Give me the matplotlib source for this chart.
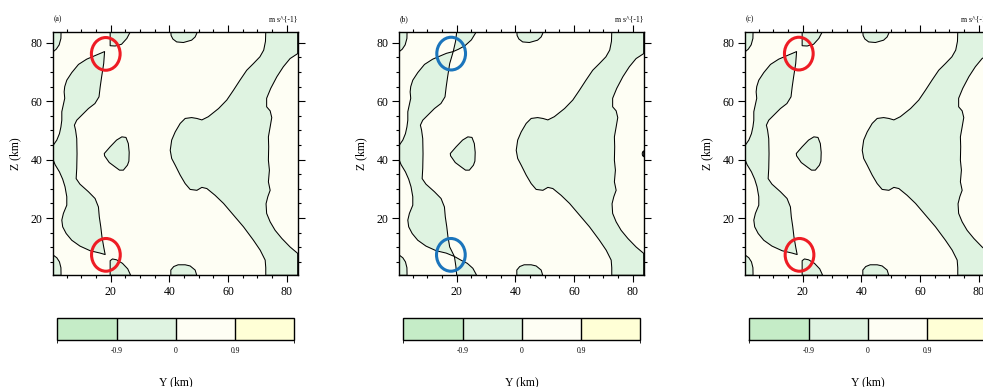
import matplotlib
matplotlib.use('Agg')
import matplotlib.pyplot as plt
import matplotlib.cm as cm
from matplotlib.patches import Ellipse
from matplotlib.colors import ListedColormap, BoundaryNorm
from matplotlib.ticker import MultipleLocator

plt.rcParams['font.family'] = ['Liberation Serif', 'DejaVu Serif']

# domain (km)
LO, HI = 0.4, 83.8

# colour levels of the shading (m s^-1)
levels = [-1.8, -0.9, 0, 0.9, 1.8]
level_ticks = [-0.9, 0, 0.9]
level_colors = ['#c5ecc7', '#dff3e1', '#fefef4', '#ffffd6']
GREEN = level_colors[1]
CREAM = level_colors[2]

panel_tags = ['(a)', '(b)', '(c)']
units = 'm s^{-1}'

# zero contour as (Y, Z) points
corner_tl = [(LO, HI), (3.05, HI), (3.0, 81.5), (2.4, 79.3), (1.4, 77.8), (LO, 77.0)]
corner_bl = [(LO, 7.3), (1.6, 6.4), (2.5, 5.0), (3.0, 3.0), (3.05, LO), (LO, LO)]

strip_outer_top = [(LO, 44.95), (1.6, 46.7), (2.5, 48.9), (3.0, 51.2), (3.3, 53.5), (3.3, 56.4),
                   (3.8, 58.7), (4.3, 61.0), (4.1, 63.2), (4.3, 65.0), (5.0, 67.2), (6.7, 69.8),
                   (9.0, 72.6), (11.8, 74.4), (14.6, 75.6), (16.5, 76.4)]
strip_inner = [(17.6, 72.9), (16.9, 68.4), (16.4, 64.9), (16.0, 61.5), (14.6, 59.2), (12.4, 57.5),
               (10.1, 55.2), (8.4, 53.5), (7.6, 51.8), (8.0, 50.1), (8.4, 47.2), (8.5, 42.0),
               (8.4, 37.0), (8.2, 33.5), (9.5, 31.6), (12.4, 29.0), (14.65, 26.7), (15.8, 23.8),
               (16.1, 20.4), (16.6, 17.0), (17.0, 13.6), (17.6, 10.1)]
strip_outer_bot = [(16.4, 8.0), (13.0, 8.8), (9.5, 10.4), (6.7, 12.4), (4.8, 14.7), (3.6, 17.0),
                   (3.3, 19.3), (3.85, 21.6), (5.0, 24.4), (5.0, 27.3), (4.4, 30.7), (3.6, 33.3),
                   (2.5, 35.8), (1.0, 38.3), (LO, 39.8)]

# pinch points: separate tips in (a)/(c), crossing saddles in (b)
tips_a = [(17.9, 77.0), (18.1, 7.5)]
tips_b = [(18.8, 77.0), (19.2, 6.85)]

top20_a = [(19.8, HI), (19.8, 79.0), (21.5, 78.9), (23.7, 79.5), (25.5, 81.5), (26.7, HI)]
bot20_a = [(19.8, LO), (19.8, 5.4), (20.6, 6.0), (22.0, 5.7), (24.0, 4.5), (25.8, 2.6), (26.8, LO)]
top20_b = [(20.0, HI), (19.6, 80.5), (18.8, 77.0), (20.6, 77.8), (22.8, 79.0), (25.0, 81.0), (26.7, HI)]
bot20_b = [(20.0, LO), (19.7, 3.5), (19.2, 6.85), (21.4, 5.6), (23.6, 4.5), (25.5, 2.8), (26.8, LO)]

top40 = [(40.5, HI), (40.6, 82.5), (41.2, 81.3), (42.5, 80.3), (44.8, 80.1), (47.6, 80.9),
         (48.8, 82.0), (49.35, 83.2), (49.4, HI)]
bot40 = [(40.5, LO), (40.5, 2.2), (41.5, 3.4), (43.0, 4.0), (45.4, 4.0), (47.1, 3.6),
         (48.8, 2.2), (49.35, LO)]

island = [(17.8, 42.1), (19.8, 44.4), (22.0, 46.7), (23.8, 47.8), (25.2, 47.6), (26.0, 45.5),
          (26.3, 42.5), (26.2, 39.5), (25.7, 38.1), (24.3, 36.4), (23.0, 36.4), (21.5, 37.5),
          (19.5, 39.0), (17.9, 41.3)]

big_left = [(72.9, HI), (72.8, 80.5), (72.2, 77.5), (70.9, 75.2), (68.7, 72.9), (66.4, 70.6),
            (64.1, 67.2), (61.9, 63.8), (59.6, 60.4), (56.8, 57.5), (53.3, 54.7), (51.1, 53.6),
            (49.4, 54.1), (47.6, 54.4), (45.4, 54.1), (43.7, 52.4), (42.0, 49.5), (40.8, 46.7),
            (40.3, 43.2), (40.8, 40.4), (42.0, 38.1), (43.7, 34.7), (45.4, 31.8), (47.1, 29.8),
            (49.4, 29.5), (51.1, 30.5), (52.8, 30.1), (55.6, 27.8), (58.5, 25.0), (61.9, 21.0),
            (65.3, 17.0), (68.7, 12.4), (71.0, 9.0), (72.7, 5.6), (72.9, 3.0), (72.9, LO)]
big_right = [(HI, 76.3), (81.2, 74.6), (78.9, 71.8), (76.7, 68.4), (74.6, 64.4), (73.2, 61.0),
             (73.2, 58.1), (74.4, 56.7), (74.95, 54.4), (74.4, 51.2), (73.8, 47.8), (73.9, 44.4),
             (73.8, 39.8), (74.15, 36.4), (73.8, 32.4), (74.4, 29.5), (73.6, 27.3), (73.0, 24.9),
             (73.2, 21.6), (74.4, 18.7), (76.1, 15.8), (78.4, 13.0), (81.2, 10.1), (HI, 7.9)]
edge_bump_b = [(HI, 43.0), (83.4, 42.6), (83.3, 42.0), (83.4, 41.4), (HI, 41.0)]

# highlight ellipses: centre (Y, Z), width, height
circles_a = [(18.3, 76.2), (18.35, 7.4)]
circles_b = [(18.1, 76.3), (18.0, 7.4)]
circles_c = [(18.66, 76.3), (18.9, 7.4)]
circle_w, circle_h = 9.8, 11.2
circle_colors = ['#ee1c24', '#1b75bc', '#ee1c24']


def green_polys(tips, top20, bot20, extra):
    strip = strip_outer_top + [tips[0]] + strip_inner + [tips[1]] + strip_outer_bot
    big = [(HI, HI)] + big_right + [(HI, LO)] + big_left[::-1]
    return [corner_tl, corner_bl, strip, top20, bot20, top40, bot40, island, big] + extra


panels = [
    green_polys(tips_a, top20_a, bot20_a, []),
    green_polys(tips_b, top20_b, bot20_b, [edge_bump_b]),
    green_polys(tips_a, top20_a, bot20_a, []),
]
circles = [circles_a, circles_b, circles_c]

fig = plt.figure(figsize=(9.83, 3.87), dpi=100)
W, H = 983.0, 387.0

cmap = ListedColormap(level_colors)
norm = BoundaryNorm(levels, cmap.N)

for i in range(3):
    dx = 346.0 * i
    ax = fig.add_axes([(53.3 + dx) / W, (H - 275.3) / H, 244.4 / W, 243.6 / H])
    ax.set_facecolor(CREAM)
    for poly in panels[i]:
        xs = [p[0] for p in poly]
        ys = [p[1] for p in poly]
        ax.fill(xs, ys, facecolor=GREEN, edgecolor='black', linewidth=0.75,
                joinstyle='round', zorder=1)
    for (cx, cy) in circles[i]:
        ax.add_patch(Ellipse((cx, cy), circle_w, circle_h, fill=False,
                             edgecolor=circle_colors[i], linewidth=2.2, zorder=5))
    ax.set_xlim(LO, HI)
    ax.set_ylim(LO, HI)
    ax.set_xticks([20, 40, 60, 80])
    ax.set_yticks([20, 40, 60, 80])
    ax.xaxis.set_minor_locator(MultipleLocator(5))
    ax.yaxis.set_minor_locator(MultipleLocator(5))
    ax.tick_params(which='both', direction='out', top=True, right=True, width=0.8,
                   labelsize=8.5, pad=3)
    ax.tick_params(which='major', length=5)
    ax.tick_params(which='minor', length=2.5)
    for s in ax.spines.values():
        s.set_linewidth(1.0)
    ax.text(0.0, 1.05, panel_tags[i], transform=ax.transAxes, fontsize=5.5,
            ha='left', va='center')
    ax.text(1.0, 1.05, units, transform=ax.transAxes, fontsize=5.5,
            ha='right', va='center')
    ax.text(-0.157, 0.5, 'Z (km)', transform=ax.transAxes, rotation=90,
            fontsize=8.5, ha='center', va='center')
    ax.text(0.5, -0.441, 'Y (km)', transform=ax.transAxes,
            fontsize=8.5, ha='center', va='center')

    cax = fig.add_axes([(57.3 + dx) / W, (H - 340.3) / H, 237.0 / W, 22.6 / H])
    cb = fig.colorbar(cm.ScalarMappable(norm=norm, cmap=cmap), cax=cax,
                      orientation='horizontal', ticks=level_ticks, drawedges=True)
    cb.outline.set_linewidth(1.0)
    cb.dividers.set_linewidth(1.0)
    cb.dividers.set_color('black')
    cb.ax.tick_params(length=0, labelsize=5.5, pad=5)
    cb.ax.set_xticklabels(['-0.9', '0', '0.9'])

fig.savefig('out.png', dpi=100)
